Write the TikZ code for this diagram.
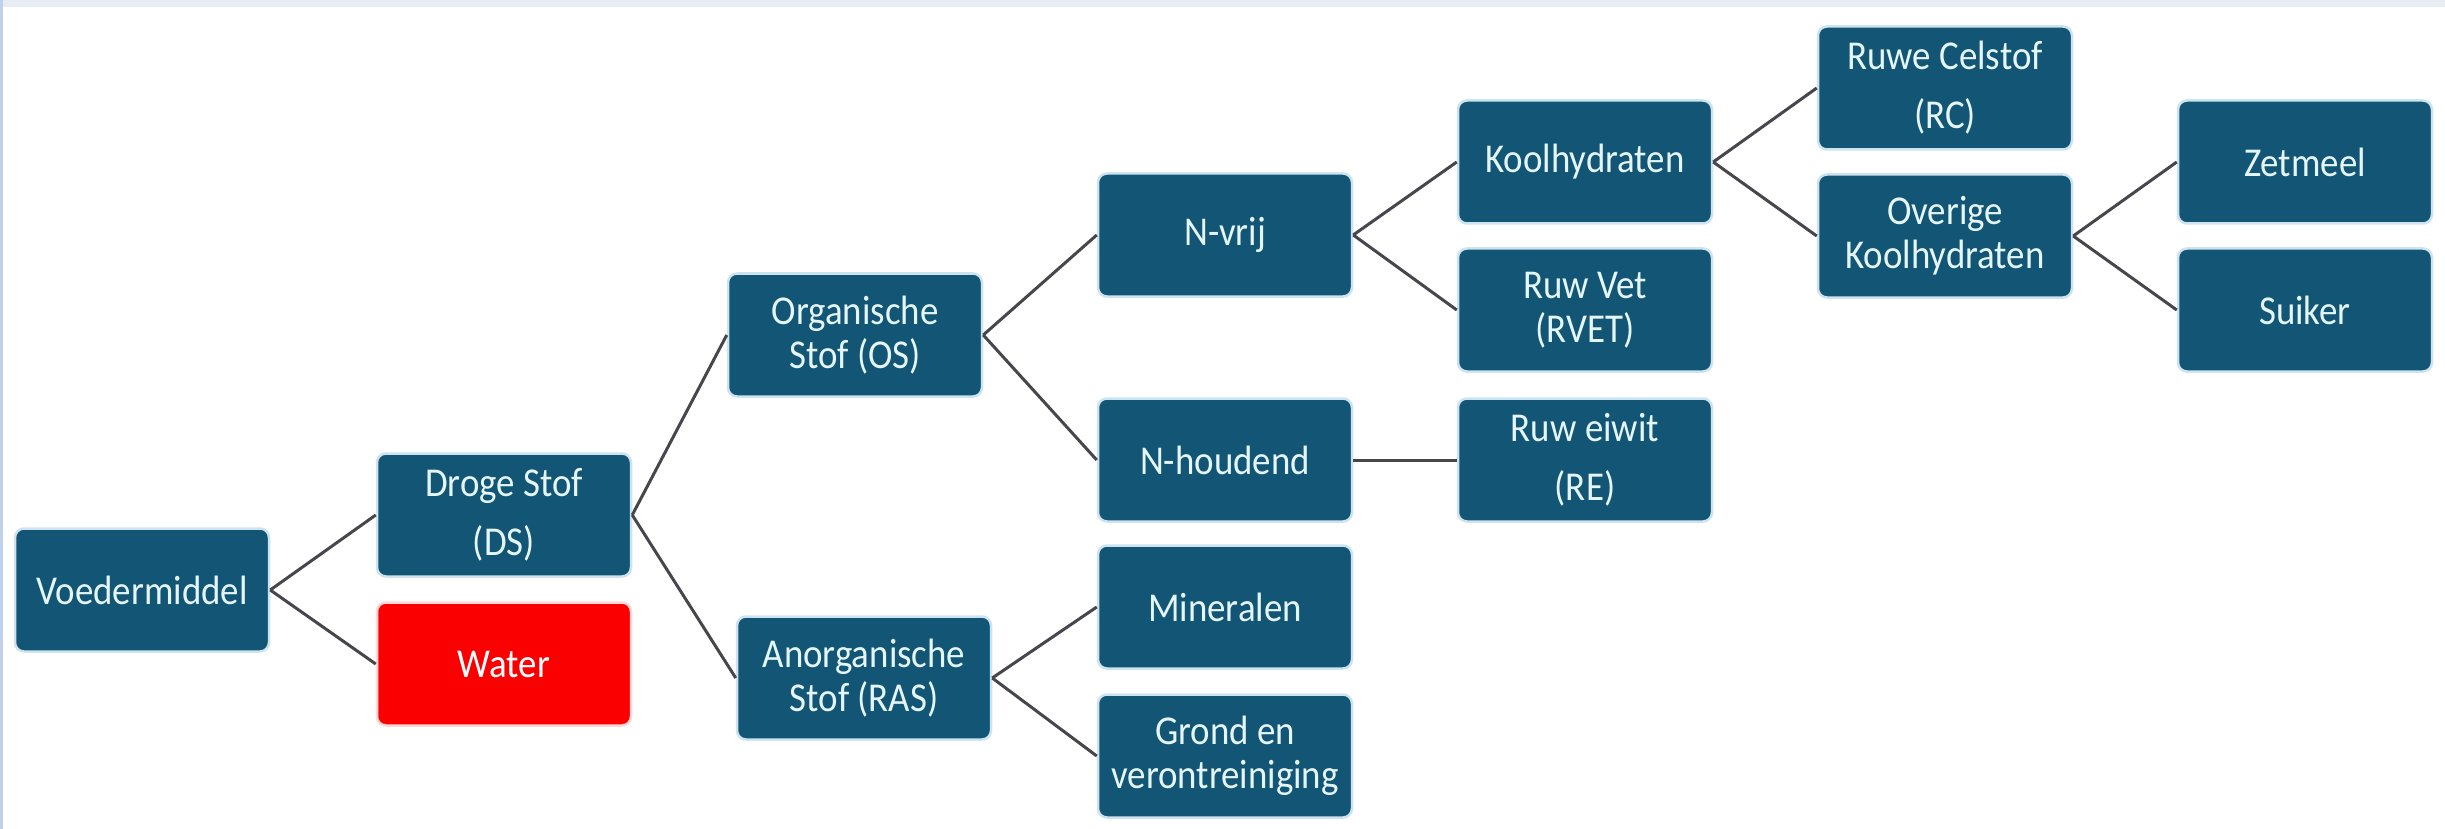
\documentclass[tikz,border=0pt]{standalone}
\usepackage{fontspec}
\setmainfont{Carlito}
\newfontfamily\boxfont{Carlito}[FakeStretch=0.9]
\definecolor{boxblue}{RGB}{18,85,116}
\definecolor{boxred}{RGB}{250,0,0}
\definecolor{glow}{RGB}{205,228,240}
\definecolor{boxtext}{RGB}{228,246,250}
\definecolor{topband}{RGB}{232,237,245}
\definecolor{leftline}{RGB}{192,208,234}
\definecolor{conn}{RGB}{70,70,76}
\tikzset{
  treebox/.style={rectangle, rounded corners=9pt, fill=boxblue, draw=glow, line width=2.5pt,
    text=boxtext, minimum width=254pt, minimum height=123pt, inner sep=0pt, align=center,
    font=\boxfont\fontsize{41}{44}\selectfont},
  widebox/.style={treebox, font=\boxfont\fontsize{41}{59}\selectfont},
  redbox/.style={treebox, fill=boxred, text=white, draw={rgb,255:red,255;green,215;blue,215}},
  link/.style={draw=conn, line width=3pt}
}
\begin{document}
\begin{tikzpicture}[x=1pt,y=-1pt]
\useasboundingbox (0,0) rectangle (2445,829);
\fill[white] (0,0) rectangle (2445,829);
\fill[topband] (0,0) rectangle (2445,7);
\fill[leftline] (0,0) rectangle (2.5,829);

\node[treebox] (V) at (142,590) {Voedermiddel};
\node[widebox] (DS) at (504,515) {Droge Stof\\(DS)};
\node[redbox] (W) at (504,664) {Water};
\node[treebox] (OS) at (855,335) {Organische\\Stof (OS)};
\node[treebox] (RAS) at (864,678) {Anorganische\\Stof (RAS)};
\node[treebox] (NV) at (1225,235) {N-vrij};
\node[treebox] (NH) at (1225,460) {N-houdend};
\node[treebox] (MIN) at (1225,607) {Mineralen};
\node[treebox] (GR) at (1225,756) {Grond en\\verontreiniging};
\node[treebox] (KH) at (1585,162) {Koolhydraten};
\node[treebox] (RV) at (1585,310) {Ruw Vet\\(RVET)};
\node[widebox] (RE) at (1585,460) {Ruw eiwit\\(RE)};
\node[widebox] (RC) at (1945,88) {Ruwe Celstof\\(RC)};
\node[treebox] (OK) at (1945,236) {Overige\\Koolhydraten};
\node[treebox] (ZM) at (2305,162) {Zetmeel};
\node[treebox] (SU) at (2305,310) {Suiker};

\draw[link] (V.east) -- (DS.west);
\draw[link] (V.east) -- (W.west);
\draw[link] (DS.east) -- (OS.west);
\draw[link] (DS.east) -- (RAS.west);
\draw[link] (OS.east) -- (NV.west);
\draw[link] (OS.east) -- (NH.west);
\draw[link] (RAS.east) -- (MIN.west);
\draw[link] (RAS.east) -- (GR.west);
\draw[link] (NV.east) -- (KH.west);
\draw[link] (NV.east) -- (RV.west);
\draw[link] (NH.east) -- (RE.west);
\draw[link] (KH.east) -- (RC.west);
\draw[link] (KH.east) -- (OK.west);
\draw[link] (OK.east) -- (ZM.west);
\draw[link] (OK.east) -- (SU.west);
\end{tikzpicture}
\end{document}
